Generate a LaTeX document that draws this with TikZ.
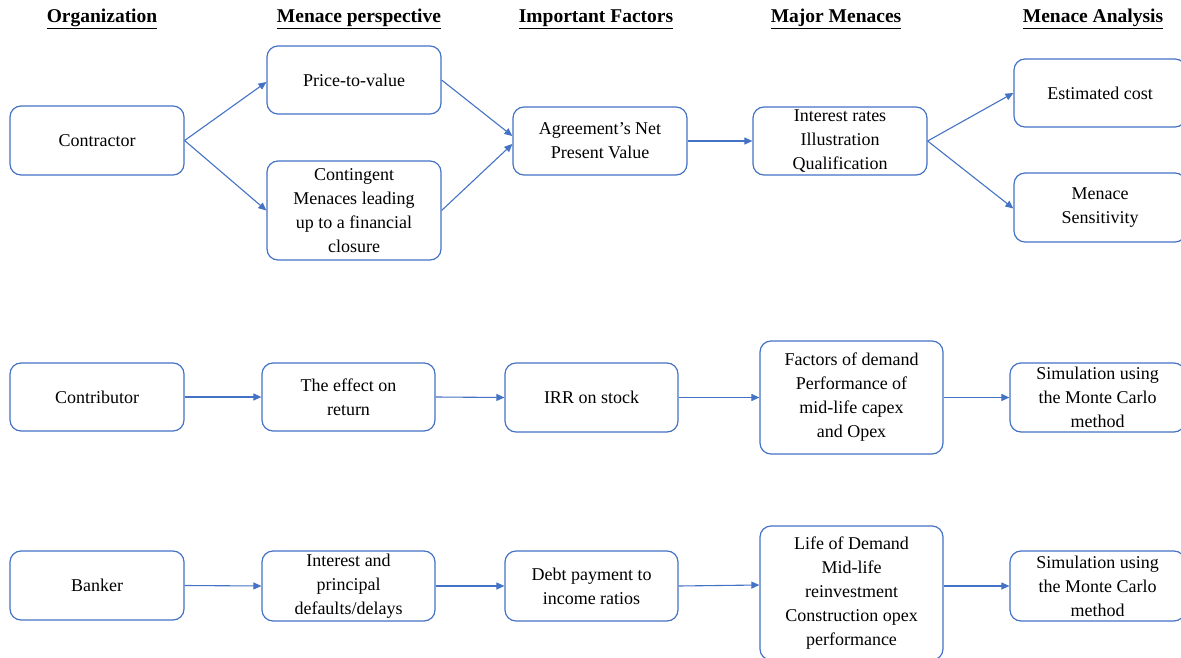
\documentclass[tikz,border=0pt]{standalone}
\usepackage{fontspec}
\setmainfont{Liberation Serif}
\usetikzlibrary{arrows.meta}
\definecolor{bblue}{HTML}{4472C4}
\tikzset{
  box/.style={draw=bblue, line width=1.2pt, rounded corners=11pt, align=center,
    inner sep=0pt, font=\fontsize{18}{24}\selectfont},
  hdr/.style={font=\fontsize{19.5}{23}\selectfont\bfseries, inner sep=0pt},
  arr/.style={draw=bblue, line width=1.1pt, -{Triangle[length=8pt,width=7pt]}}
}
\begin{document}
\begin{tikzpicture}[x=1pt,y=1pt]
\useasboundingbox (0,0) rectangle (1181,-658);
\clip (0,0) rectangle (1181,-658);
% headers
\node[hdr] (h1) at (102,-19) {\underline{Organization}};
\node[hdr] (h2) at (359,-19) {\underline{Menace perspective}};
\node[hdr] (h3) at (596,-19) {\underline{Important Factors}};
\node[hdr] (h4) at (836,-19) {\underline{Major Menaces}};
\node[hdr] (h5) at (1093,-19) {\underline{Menace Analysis}};
% row 1
\node[box, minimum width=174pt, minimum height=69pt] (con) at (97,-140.5) {Contractor};
\node[box, minimum width=174pt, minimum height=68pt] (ptv) at (354,-80) {Price-to-value};
\node[box, minimum width=174pt, minimum height=99pt] (cm) at (354,-210.5) {Contingent\\Menaces leading\\up to a financial\\closure};
\node[box, minimum width=174pt, minimum height=68pt] (npv) at (600,-141) {Agreement's Net\\Present Value};
\node[box, minimum width=174pt, minimum height=68pt] (ir) at (840,-141) {Interest rates\\Illustration\\Qualification};
\node[box, minimum width=172pt, minimum height=68pt] (ec) at (1100,-93) {Estimated cost};
\node[box, minimum width=172pt, minimum height=69pt] (ms) at (1100,-207.5) {Menace\\Sensitivity};
% row 2
\node[box, minimum width=174pt, minimum height=68pt] (ctb) at (97,-397) {Contributor};
\node[box, minimum width=173pt, minimum height=68pt] (eff) at (348.5,-397) {The effect on\\return};
\node[box, minimum width=173pt, minimum height=69pt] (irr) at (591.5,-397.5) {IRR on stock};
\node[box, minimum width=183pt, minimum height=113pt] (fod) at (851.5,-397.5) {Factors of demand\\Performance of\\mid-life capex\\and Opex};
\node[box, minimum width=175pt, minimum height=69pt] (sim1) at (1097.5,-397.5) {Simulation using\\the Monte Carlo\\method};
% row 3
\node[box, minimum width=174pt, minimum height=69pt] (bnk) at (97,-585.5) {Banker};
\node[box, minimum width=173pt, minimum height=70pt] (iap) at (348.5,-586) {Interest and\\principal\\defaults/delays};
\node[box, minimum width=173pt, minimum height=70pt] (dp) at (591.5,-586) {Debt payment to\\income ratios};
\node[box, minimum width=183pt, minimum height=134pt] (lod) at (851.5,-593) {Life of Demand\\Mid-life\\reinvestment\\Construction opex\\performance};
\node[box, minimum width=175pt, minimum height=70pt] (sim2) at (1097.5,-586) {Simulation using\\the Monte Carlo\\method};
% connectors row 1
\draw[arr] (con.east) -- ([yshift=-2pt]ptv.west);
\draw[arr] (con.east) -- (cm.west);
\draw[arr] (ptv.east) -- ([yshift=5pt]npv.west);
\draw[arr] (cm.east) -- ([yshift=-3pt]npv.west);
\draw[arr] (npv.east) -- (ir.west);
\draw[arr] (ir.east) -- (ec.west);
\draw[arr] (ir.east) -- ([yshift=-1pt]ms.west);
% row 2
\draw[arr] (ctb.east) -- (eff.west);
\draw[arr] (eff.east) -- (irr.west);
\draw[arr] (irr.east) -- (fod.west);
\draw[arr] (fod.east) -- (sim1.west);
% row 3
\draw[arr] (bnk.east) -- (iap.west);
\draw[arr] (iap.east) -- (dp.west);
\draw[arr] (dp.east) -- ([yshift=1pt]lod.west |- dp.east);
\draw[arr] (lod.east |- sim2.west) -- (sim2.west);
\end{tikzpicture}
\end{document}
